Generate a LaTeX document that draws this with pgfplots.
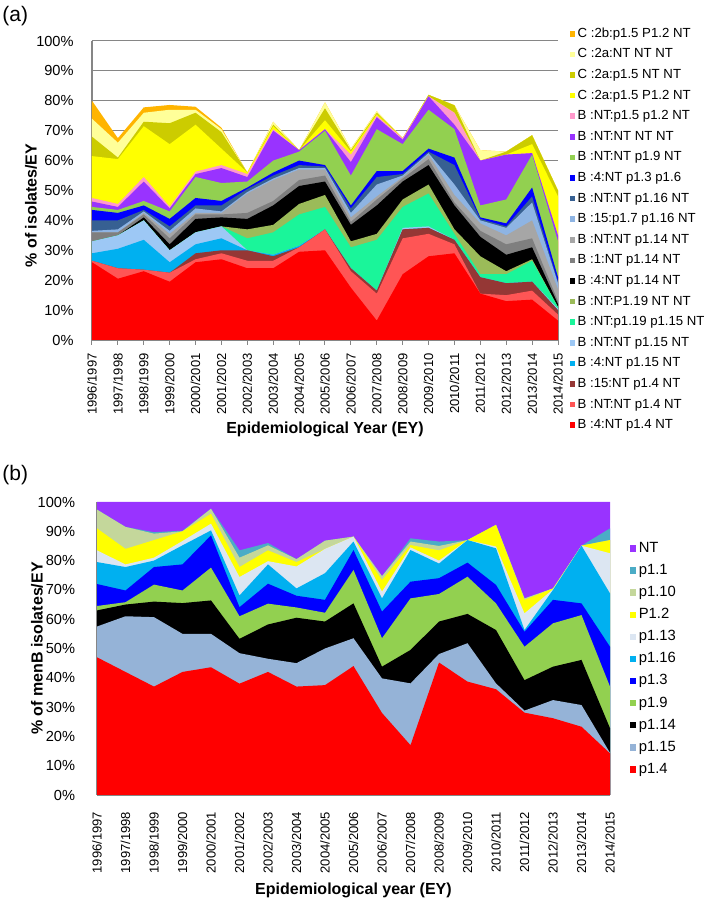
\documentclass[border=0pt]{standalone}
\usepackage{fontspec}
\setmainfont{Liberation Sans}
\usepackage{pgfplots}
\usepackage{pgfplotstable}
\pgfplotsset{compat=1.18}

% panel (a) colours, top of stack first
\definecolor{aOrange}{HTML}{FFB400}
\definecolor{aPale}{HTML}{FFFF99}
\definecolor{aOlive}{HTML}{CCCC00}
\definecolor{aYellow}{HTML}{FFFF00}
\definecolor{aPink}{HTML}{FF99CC}
\definecolor{aPurple}{HTML}{9933FF}
\definecolor{aGreen}{HTML}{92D050}
\definecolor{aBlue}{HTML}{0000FF}
\definecolor{aDkSteel}{HTML}{376092}
\definecolor{aSteel}{HTML}{8EB4E3}
\definecolor{aLtGray}{HTML}{A6A6A6}
\definecolor{aGray}{HTML}{7F7F7F}
\definecolor{aBlack}{HTML}{000000}
\definecolor{aOliveGr}{HTML}{9BBB59}
\definecolor{aMint}{HTML}{1AF59A}
\definecolor{aLtBlue}{HTML}{9DC8F5}
\definecolor{aCyan}{HTML}{00B0F0}
\definecolor{aDkRed}{HTML}{953735}
\definecolor{aSalmon}{HTML}{FF5555}
\definecolor{aRed}{HTML}{FF0000}
% panel (b) colours
\definecolor{bNT}{HTML}{9933FF}
\definecolor{bOne}{HTML}{4BACC6}
\definecolor{bTen}{HTML}{C4D79B}
\definecolor{bTwo}{HTML}{FFFF00}
\definecolor{bThirteen}{HTML}{DCE6F2}
\definecolor{bSixteen}{HTML}{00B0F0}
\definecolor{bThree}{HTML}{0000FF}
\definecolor{bNine}{HTML}{92D050}
\definecolor{bFourteen}{HTML}{000000}
\definecolor{bFifteen}{HTML}{95B3D7}
\definecolor{bFour}{HTML}{FF0000}
\definecolor{axisgray}{HTML}{868686}

% cumulative tops of the stacked areas, panel (a): c1 = bottom (B :4:NT p1.4 NT) ... c20 = top
\pgfplotstableread{
x  c1   c2   c3   c4   c5   c6   c7   c8   c9   c10  c11  c12  c13  c14  c15  c16  c17  c18  c19  c20
0  26   26.5 26.5 29   33   33   33   33   36   36   36.5 40   43.5 44.5 46.3 47.5 61.5 68   74   80
1  20.5 24   24   30.5 35   35   35   35   36   36   37   40   42.5 43.5 44.5 45.5 60.5 61   66   67.5
2  23   23.5 23.5 33.5 40   40   40   41   42   42.5 43   43.5 45   46.5 53   54.5 71.5 73   76   77.8
3  19.5 22.5 22.5 26   30   30   30   32   34   35.5 36.5 38   40.5 43   44   44.6 65.5 72.5 77   78.6
4  26   27   29   32   36   36   36   40.5 42   42.5 44   45   47.5 54.5 55.5 56.3 72   76   77   78
5  27   29   30   34   38   38   38   41   42   42.5 43   45   46.5 52.5 57.5 58.5 64   69.5 70.5 71
6  24   26.5 30   30   30   34   37   40.5 42.5 49   49.5 50.5 51   53   54.5 55.5 56   56   56   56
7  24   26.5 28   28.5 28.5 36   38.5 45   46.5 53.5 54   55   56   60   70   70.5 71.5 72   73   73
8  29.5 31   31   31.5 31.5 42   45.5 51.5 53.5 57   57.5 58.5 60   63   63.5 63.5 63.5 63.5 63.5 63.5
9  30   37   37   37   37   44.5 48.5 53   55   57   57.5 58   58.5 70   70.5 70.5 73.5 77.5 79.5 79.5
10 17.5 23   24   24   24   31   33   38.5 39.5 41   42.5 44   45   55   59.5 62   63   63.5 64   64
11 6.5  15.5 16.5 16.5 16.5 33.5 35.5 45   47   48   52   54.5 56.5 70.5 74.5 75   75.5 76   76.5 76.5
12 22   34   37   37   37.5 44.5 47   53   54   54.5 55   55.5 56.5 65.5 67   67.5 67.5 67.5 67.5 67.5
13 28   35.5 37.5 37.5 38   49   52   58.5 60.5 62   62.5 63   64   77   81.5 81.5 81.5 82   82   82
14 29   32   33.5 33.5 33.5 35.5 37   45   46   48.5 52   58.5 61   70.5 72   76   76   78.5 78.5 78.5
15 15.5 15.5 21   21   21   22   28   34.5 36.5 39   40   40.5 41   45   60   60   60   60   63.5 63.5
16 13   15   19   19   19   22   23   28.5 32   35   37.5 38   39   47   62   62   62   63   63   63
17 13.5 16.5 19.5 19.5 19.5 26.5 27   31   34   40   46   48   51   62   62.5 62.5 65.5 68.5 68.5 68.5
18 6.5  8.5  10   10   10.5 11   11   12   13   17   19   19.5 21   33   35   35   48   50   50   50
}\dataA

% cumulative tops, panel (b): b1 = p1.4 ... b10 = p1.1, NT fills to 100
\pgfplotstableread{
x  b1   b2   b3   b4   b5   b6   b7   b8   b9   b10  b11
0  47   57.5 63   64.5 72   79.5 83.5 91   97.4 97.4 100
1  42   61   65   65.8 69.8 77.8 78.7 84   91.5 91.5 100
2  37   60.7 66   71.8 77.8 80   81   87   89.2 89.7 100
3  42   55   65.5 69.8 78.7 85.2 86.7 90   90   90.2 100
4  43.6 55   66.4 77.6 88.6 90.3 92.6 96   97.7 97.7 100
5  38   48.4 53.3 61   64.1 68.1 74.4 77.8 81   83.5 100
6  42   46.5 58.2 65.3 72.1 78.7 79.8 83.5 85.2 86   100
7  37   45   60.5 64   68   70.5 78   79.5 80.5 80.5 100
8  37.5 50   59.2 62.2 66.6 75.7 84   84   86.8 86.8 100
9  44   53.5 65.4 76.8 83.6 86.5 88.2 88.2 88.2 88.2 100
10 28   39.8 43.8 53.5 62.6 67.1 69.4 73.4 74.7 74.7 100
11 17   38.1 49.5 67.1 72.8 83.6 84.5 85.3 86.5 87.6 100
12 45.2 48.1 59.2 68.6 74   79   80   83.5 85   86.5 100
13 38.7 51.8 61.8 74.5 79.3 87   87   87   87   87   100
14 36.1 38.1 56.3 65.4 71.7 84.2 84.8 92.2 92.2 92.2 100
15 28.1 28.8 39.2 50.6 55.7 56.3 62   66.6 67.1 67.1 100
16 26.2 32.4 43.8 58.6 66.6 70   70.2 70.5 70.5 70.5 100
17 23.3 30.7 46.1 61.4 65.4 85.1 85.1 85.1 85.1 85.1 100
18 14.2 14.4 22.8 37   50.6 68.8 82.5 87   87   91   100
}\dataB

\pgfplotsset{
  panel/.style={
    scale only axis,
    xmin=0, xmax=18, ymin=0, ymax=100,
    xtick={0,...,18},
    xticklabels={1996/1997,1997/1998,1998/1999,1999/2000,2000/2001,2001/2002,2002/2003,2003/2004,2004/2005,2005/2006,2006/2007,2007/2008,2008/2009,2009/2010,2010/2011,2011/2012,2012/2013,2013/2014,2014/2015},
    ytick={0,10,...,100},
    yticklabels={0\%,10\%,20\%,30\%,40\%,50\%,60\%,70\%,80\%,90\%,100\%},
    axis lines*=left,
    axis line style={draw=axisgray, line width=0.6pt, -},
    tick label style={font=\fontsize{7.3}{8.5}\selectfont, text=black},
    xticklabel style={rotate=90, anchor=east, inner sep=0pt, font=\fontsize{6.5}{7.5}\selectfont},
    yticklabel style={inner sep=0pt},
    yticklabel shift=6.5pt,
    xticklabel shift=4pt,
    ytick style={draw=none},
    tick align=outside,
    label style={font=\bfseries\fontsize{8}{9.5}\selectfont},
    legend cell align=left,
    legend image code/.code={\path[##1, draw=none] (0pt,-1.4pt) rectangle (2.8pt,1.4pt);},
  },
  ar/.style={fill=#1, draw=none},
}

\begin{document}
\begin{tikzpicture}
\path[use as bounding box] (0,0) rectangle (354pt,450pt);

\node[anchor=north west, inner sep=0pt, font=\fontsize{10.5}{12}\selectfont] at (1pt,447pt) {(a)};
\node[anchor=north west, inner sep=0pt, font=\fontsize{10.5}{12}\selectfont] at (1pt,217.5pt) {(b)};

\begin{axis}[panel,
  at={(46pt,280pt)}, anchor=south west,
  width=233pt, height=149.5pt,
  ymajorgrids, major grid style={draw=axisgray, line width=0.5pt},
  xtick style={draw=axisgray, line width=0.5pt},
  major tick length=2.5pt,
  ylabel={\% of isolates/EY},
  xlabel={Epidemiological Year (EY)},
  ylabel style={at={(axis description cs:-0.131,0.45)}, anchor=center},
  xlabel style={at={(axis description cs:0.5,-0.30)}, anchor=center},
  legend style={at={(axis description cs:1.025,1.045)}, anchor=north west,
    draw=none, fill=none, inner sep=0pt, outer sep=0pt,
    font=\fontsize{6.6}{7.5}\selectfont, row sep=4.0pt,
    nodes={inner ysep=0pt, inner xsep=1.2pt, text height=4.9pt, text depth=1.4pt}},
]
\addplot[ar=aOrange]   table[x=x,y=c20] {\dataA} \closedcycle; \addlegendentry{C :2b:p1.5 P1.2 NT}
\addplot[ar=aPale]     table[x=x,y=c19] {\dataA} \closedcycle; \addlegendentry{C :2a:NT NT NT}
\addplot[ar=aOlive]    table[x=x,y=c18] {\dataA} \closedcycle; \addlegendentry{C :2a:p1.5 NT NT}
\addplot[ar=aYellow]   table[x=x,y=c17] {\dataA} \closedcycle; \addlegendentry{C :2a:p1.5 P1.2 NT}
\addplot[ar=aPink]     table[x=x,y=c16] {\dataA} \closedcycle; \addlegendentry{B :NT:p1.5 p1.2 NT}
\addplot[ar=aPurple]   table[x=x,y=c15] {\dataA} \closedcycle; \addlegendentry{B :NT:NT NT NT}
\addplot[ar=aGreen]    table[x=x,y=c14] {\dataA} \closedcycle; \addlegendentry{B :NT:NT p1.9 NT}
\addplot[ar=aBlue]     table[x=x,y=c13] {\dataA} \closedcycle; \addlegendentry{B :4:NT p1.3 p1.6}
\addplot[ar=aDkSteel]  table[x=x,y=c12] {\dataA} \closedcycle; \addlegendentry{B :NT:NT p1.16 NT}
\addplot[ar=aSteel]    table[x=x,y=c11] {\dataA} \closedcycle; \addlegendentry{B :15:p1.7 p1.16 NT}
\addplot[ar=aLtGray]   table[x=x,y=c10] {\dataA} \closedcycle; \addlegendentry{B :NT:NT p1.14 NT}
\addplot[ar=aGray]     table[x=x,y=c9]  {\dataA} \closedcycle; \addlegendentry{B :1:NT p1.14 NT}
\addplot[ar=aBlack]    table[x=x,y=c8]  {\dataA} \closedcycle; \addlegendentry{B :4:NT p1.14 NT}
\addplot[ar=aOliveGr]  table[x=x,y=c7]  {\dataA} \closedcycle; \addlegendentry{B :NT:P1.19 NT NT}
\addplot[ar=aMint]     table[x=x,y=c6]  {\dataA} \closedcycle; \addlegendentry{B :NT:p1.19 p1.15 NT}
\addplot[ar=aLtBlue]   table[x=x,y=c5]  {\dataA} \closedcycle; \addlegendentry{B :NT:NT p1.15 NT}
\addplot[ar=aCyan]     table[x=x,y=c4]  {\dataA} \closedcycle; \addlegendentry{B :4:NT p1.15 NT}
\addplot[ar=aDkRed]    table[x=x,y=c3]  {\dataA} \closedcycle; \addlegendentry{B :15:NT p1.4 NT}
\addplot[ar=aSalmon]   table[x=x,y=c2]  {\dataA} \closedcycle; \addlegendentry{B :NT:NT p1.4 NT}
\addplot[ar=aRed]      table[x=x,y=c1]  {\dataA} \closedcycle; \addlegendentry{B :4:NT p1.4 NT}
\end{axis}

\begin{axis}[panel,
  at={(48.5pt,52.5pt)}, anchor=south west,
  width=256.5pt, height=146.5pt,
  xtick style={draw=none},
  ylabel={\% of menB isolates/EY},
  xlabel={Epidemiological year (EY)},
  ylabel style={at={(axis description cs:-0.117,0.5)}, anchor=center},
  xlabel style={at={(axis description cs:0.5,-0.325)}, anchor=center},
  legend style={at={(axis description cs:1.039,0.865)}, anchor=north west,
    draw=none, fill=none, inner sep=0pt, outer sep=0pt,
    font=\fontsize{7.4}{8.5}\selectfont, row sep=4.15pt,
    nodes={inner ysep=0pt, inner xsep=1.2pt, text height=5.4pt, text depth=1.5pt}},
  legend image code/.code={\path[#1, draw=none] (0pt,-1.6pt) rectangle (3.2pt,1.6pt);},
]
\addplot[ar=bNT]        table[x=x,y=b11] {\dataB} \closedcycle; \addlegendentry{NT}
\addplot[ar=bOne]       table[x=x,y=b10] {\dataB} \closedcycle; \addlegendentry{p1.1}
\addplot[ar=bTen]       table[x=x,y=b9]  {\dataB} \closedcycle; \addlegendentry{p1.10}
\addplot[ar=bTwo]       table[x=x,y=b8]  {\dataB} \closedcycle; \addlegendentry{P1.2}
\addplot[ar=bThirteen]  table[x=x,y=b7]  {\dataB} \closedcycle; \addlegendentry{p1.13}
\addplot[ar=bSixteen]   table[x=x,y=b6]  {\dataB} \closedcycle; \addlegendentry{p1.16}
\addplot[ar=bThree]     table[x=x,y=b5]  {\dataB} \closedcycle; \addlegendentry{p1.3}
\addplot[ar=bNine]      table[x=x,y=b4]  {\dataB} \closedcycle; \addlegendentry{p1.9}
\addplot[ar=bFourteen]  table[x=x,y=b3]  {\dataB} \closedcycle; \addlegendentry{p1.14}
\addplot[ar=bFifteen]   table[x=x,y=b2]  {\dataB} \closedcycle; \addlegendentry{p1.15}
\addplot[ar=bFour]      table[x=x,y=b1]  {\dataB} \closedcycle; \addlegendentry{p1.4}
\end{axis}
\end{tikzpicture}
\end{document}
